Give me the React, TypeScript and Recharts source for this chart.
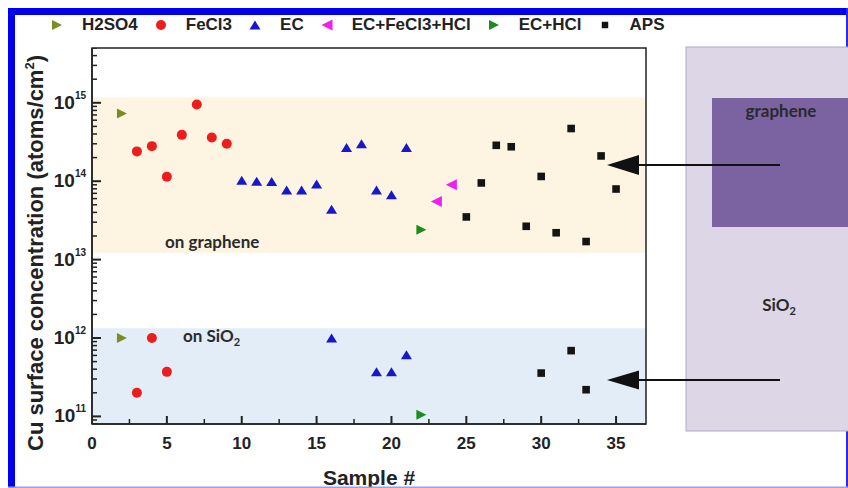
import { ScatterChart, Scatter, XAxis, YAxis, ReferenceArea, Legend } from 'recharts';

// Sample numbers and Cu surface concentrations (atoms/cm2)
const H2SO4_X = [2, 2];
const H2SO4_Y = [7.3e14, 1.0e12];
const FECL3_X = [3, 4, 5, 6, 7, 8, 9, 4, 5, 3];
const FECL3_Y = [2.4e14, 2.8e14, 1.14e14, 3.9e14, 9.5e14, 3.6e14, 3.0e14, 1.0e12, 3.7e11, 2.0e11];
const EC_X = [10, 11, 12, 13, 14, 15, 16, 17, 18, 19, 20, 21, 16, 19, 20, 21];
const EC_Y = [1.03e14, 1.0e14, 9.9e13, 7.7e13, 7.7e13, 9.2e13, 4.4e13, 2.7e14, 3.0e14, 7.7e13, 6.7e13, 2.7e14, 1.0e12, 3.7e11, 3.7e11, 6.1e11];
const EC_FECL3_HCL_X = [23, 24];
const EC_FECL3_HCL_Y = [5.5e13, 9.0e13];
const EC_HCL_X = [22, 22];
const EC_HCL_Y = [2.4e13, 1.05e11];
const APS_X = [25, 26, 27, 28, 29, 30, 31, 32, 33, 34, 35, 30, 32, 33];
const APS_Y = [3.5e13, 9.5e13, 2.87e14, 2.75e14, 2.66e13, 1.15e14, 2.2e13, 4.7e14, 1.7e13, 2.1e14, 7.95e13, 3.57e11, 6.9e11, 2.19e11];

// shaded regions
const GRAPHENE_BAND = [1.22e13, 1.17e15];
const SIO2_BAND = [8e10, 1.33e12];

const X_DOMAIN = [0, 37];
const Y_DOMAIN = [8e10, 5e15];
const X_TICKS = [0, 5, 10, 15, 20, 25, 30, 35];
const X_MINOR = [2.5, 7.5, 12.5, 17.5, 22.5, 27.5, 32.5];
const Y_TICKS = [1e11, 1e12, 1e13, 1e14, 1e15];
const Y_MINOR = [10, 11, 12, 13, 14, 15]
  .flatMap((e) => [2, 3, 4, 5, 6, 7, 8, 9].map((m) => m * Math.pow(10, e)))
  .filter((v) => v >= Y_DOMAIN[0] && v <= Y_DOMAIN[1]);

const toPoints = (xs: number[], ys: number[]) => xs.map((x, i) => ({ x, y: ys[i] }));

type Kind = 'right' | 'left' | 'up' | 'circle' | 'square';

const SERIES: { name: string; color: string; kind: Kind; data: { x: number; y: number }[] }[] = [
  { name: 'H2SO4', color: '#7a8c22', kind: 'right', data: toPoints(H2SO4_X, H2SO4_Y) },
  { name: 'FeCl3', color: '#ee1d1d', kind: 'circle', data: toPoints(FECL3_X, FECL3_Y) },
  { name: 'EC', color: '#1717cc', kind: 'up', data: toPoints(EC_X, EC_Y) },
  { name: 'EC+FeCl3+HCl', color: '#f01ef0', kind: 'left', data: toPoints(EC_FECL3_HCL_X, EC_FECL3_HCL_Y) },
  { name: 'EC+HCl', color: '#1c8c1c', kind: 'right', data: toPoints(EC_HCL_X, EC_HCL_Y) },
  { name: 'APS', color: '#141414', kind: 'square', data: toPoints(APS_X, APS_Y) },
];

const ARIAL = '"Liberation Sans", Arial, sans-serif';
const CALIBRI = 'Lato, "Open Sans", sans-serif';
const AXIS = '#222';

function drawMarker(kind: Kind, cx: number, cy: number, color: string, s = 1) {
  if (kind === 'circle') return <circle cx={cx} cy={cy} r={5 * s} fill={color} />;
  if (kind === 'square') return <rect x={cx - 3.8 * s} y={cy - 3.8 * s} width={7.6 * s} height={7.6 * s} fill={color} />;
  let pts = '';
  if (kind === 'right') pts = `${cx - 5 * s},${cy - 5 * s} ${cx + 5 * s},${cy} ${cx - 5 * s},${cy + 5 * s}`;
  if (kind === 'left') pts = `${cx + 5.5 * s},${cy - 5.5 * s} ${cx - 5.5 * s},${cy} ${cx + 5.5 * s},${cy + 5.5 * s}`;
  if (kind === 'up') pts = `${cx},${cy - 4.5 * s} ${cx + 5.5 * s},${cy + 4.5 * s} ${cx - 5.5 * s},${cy + 4.5 * s}`;
  return <polygon points={pts} fill={color} />;
}

const shapeFor = (kind: Kind, color: string) => (props: any) => {
  const { cx, cy } = props;
  if (cx == null || cy == null) return <g />;
  return drawMarker(kind, cx, cy, color);
};

const renderLegend = () => (
  <div
    style={{
      display: 'flex',
      alignItems: 'center',
      height: 34,
      paddingLeft: 50,
      fontFamily: ARIAL,
      fontSize: 17,
      fontWeight: 700,
      color: '#222',
    }}
  >
    {SERIES.map((s) => (
      <div key={s.name} style={{ display: 'flex', alignItems: 'center', marginRight: 16 }}>
        <svg width={14} height={14}>
          {drawMarker(s.kind, 7, 7, s.color, s.kind === 'square' ? 0.85 : 1)}
        </svg>
        <span style={{ marginLeft: 18 }}>{s.name}</span>
      </div>
    ))}
  </div>
);

// y tick labels: x,y is the axis line position (tickSize and tickMargin are 0)
const PowerTick = (props: any) => {
  const { x, y, payload } = props;
  const exp = Math.round(Math.log10(payload.value));
  return (
    <text x={x - 6} y={y + 6} textAnchor="end" fontFamily={ARIAL} fontWeight={700} fill="#222">
      <tspan fontSize={19}>10</tspan>
      <tspan fontSize={10} dy={-10}>
        {exp}
      </tspan>
    </text>
  );
};

const SampleTick = (props: any) => {
  const { x, y, payload } = props;
  return (
    <text x={x} y={y + 25} textAnchor="middle" fontFamily={ARIAL} fontWeight={700} fontSize={17} fill="#222">
      {payload.value}
    </text>
  );
};

// inward tick marks: points placed on the axes, drawn as short strokes above the bands
const Y_MAJOR_MARKS = Y_TICKS.map((y) => ({ x: X_DOMAIN[0], y }));
const Y_MINOR_MARKS = Y_MINOR.map((y) => ({ x: X_DOMAIN[0], y }));
const X_MAJOR_MARKS = X_TICKS.map((x) => ({ x, y: Y_DOMAIN[0] }));
const X_MINOR_MARKS = X_MINOR.map((x) => ({ x, y: Y_DOMAIN[0] }));

const yTickMark = (len: number, w: number) => (p: any) => {
  if (p.cx == null || p.cy == null) return <g />;
  return <rect x={p.cx} y={p.cy - w / 2} width={len} height={w} fill={AXIS} />;
};
const xTickMark = (len: number, w: number) => (p: any) => {
  if (p.cx == null || p.cy == null) return <g />;
  return <rect x={p.cx - w / 2} y={p.cy - len} width={w} height={len} fill={AXIS} />;
};

const YTitle = (props: any) => {
  const vb = props.viewBox;
  const cx = vb.x + 31;
  const cy = vb.y + vb.height / 2 + 17;
  return (
    <text
      x={cx}
      y={cy}
      transform={`rotate(-90, ${cx}, ${cy})`}
      textAnchor="middle"
      fontFamily={ARIAL}
      fontWeight={700}
      fontSize={22}
      fill="#222"
    >
      Cu surface concentration (atoms/cm
      <tspan fontSize={13} dy={-9}>
        2
      </tspan>
      <tspan dy={9}>)</tspan>
    </text>
  );
};

const XTitle = (props: any) => {
  const vb = props.viewBox;
  return (
    <text
      x={vb.x + vb.width / 2}
      y={vb.y + 61}
      textAnchor="middle"
      fontFamily={ARIAL}
      fontWeight={700}
      fontSize={21}
      fill="#222"
    >
      Sample #
    </text>
  );
};

export default function App() {
  return (
    <div style={{ position: 'absolute', left: 0, top: 0, width: 848, height: 488, background: '#fff' }}>
      <ScatterChart width={848} height={488} margin={{ top: 14, right: 202, bottom: 0, left: 12 }}>
        <Legend
          verticalAlign="top"
          content={renderLegend}
          wrapperStyle={{ top: 8, left: 0, width: 848 }}
        />
        <XAxis
          type="number"
          dataKey="x"
          domain={X_DOMAIN}
          allowDataOverflow
          ticks={X_TICKS}
          interval={0}
          tickLine={false}
          tickSize={0}
          tickMargin={0}
          axisLine={{ stroke: AXIS, strokeWidth: 1.5 }}
          tick={SampleTick}
          height={64}
          label={{ content: XTitle }}
        />
        <YAxis
          type="number"
          dataKey="y"
          scale="log"
          domain={Y_DOMAIN}
          allowDataOverflow
          ticks={Y_TICKS}
          interval={0}
          tickLine={false}
          tickSize={0}
          tickMargin={0}
          axisLine={{ stroke: AXIS, strokeWidth: 1.5 }}
          tick={PowerTick}
          width={80}
          label={{ content: YTitle }}
        />
        <ReferenceArea
          x1={X_DOMAIN[0]}
          x2={X_DOMAIN[1]}
          y1={GRAPHENE_BAND[0]}
          y2={GRAPHENE_BAND[1]}
          fill="#fdf5e2"
          fillOpacity={1}
          stroke="none"
        />
        <ReferenceArea
          x1={X_DOMAIN[0]}
          x2={X_DOMAIN[1]}
          y1={SIO2_BAND[0]}
          y2={SIO2_BAND[1]}
          fill="#e2edf7"
          fillOpacity={1}
          stroke="none"
        />
        <ReferenceArea
          x1={X_DOMAIN[0]}
          x2={X_DOMAIN[1]}
          y1={Y_DOMAIN[0]}
          y2={Y_DOMAIN[1]}
          fill="none"
          stroke={AXIS}
          strokeWidth={1.5}
        />
        <Scatter name="y-major" data={Y_MAJOR_MARKS} legendType="none" shape={yTickMark(9, 2)} isAnimationActive={false} />
        <Scatter name="y-minor" data={Y_MINOR_MARKS} legendType="none" shape={yTickMark(5, 1.5)} isAnimationActive={false} />
        <Scatter name="x-major" data={X_MAJOR_MARKS} legendType="none" shape={xTickMark(8, 2)} isAnimationActive={false} />
        <Scatter name="x-minor" data={X_MINOR_MARKS} legendType="none" shape={xTickMark(5, 1.5)} isAnimationActive={false} />
        {SERIES.map((s) => (
          <Scatter
            key={s.name}
            name={s.name}
            data={s.data}
            fill={s.color}
            shape={shapeFor(s.kind, s.color)}
            isAnimationActive={false}
          />
        ))}
      </ScatterChart>
      <svg
        width={848}
        height={488}
        style={{ position: 'absolute', left: 0, top: 0, pointerEvents: 'none' }}
      >
        {/* frame of the figure */}
        <rect x={8} y={8} width={840} height={7} fill="#0000f0" />
        <rect x={8} y={8} width={7} height={480} fill="#0000f0" />
        <rect x={846} y={8} width={2} height={480} fill="#2a2aee" />
        <rect x={8} y={486.5} width={840} height={1.5} fill="#9c9cf2" />

        {/* schematic of the sample */}
        <rect x={686} y={47} width={170} height={384} fill="#dcd6e6" stroke="#b3a9c6" />
        <rect x={712} y={98} width={140} height={129} fill="#7b62a0" />
        <text x={781} y={117} textAnchor="middle" fontFamily={CALIBRI} fontWeight={700} fontSize={17} fill="#2a2a2a">
          graphene
        </text>
        <text x={779} y={311} textAnchor="middle" fontFamily={CALIBRI} fontWeight={700} fontSize={17} fill="#2a2a2a">
          SiO<tspan fontSize={11} dy={4}>2</tspan>
        </text>

        {/* arrows */}
        <line x1={780} y1={165} x2={632} y2={165} stroke="#111" strokeWidth={2} />
        <polygon points="607,165 639,155 639,175" fill="#111" />
        <line x1={780} y1={380} x2={632} y2={380} stroke="#111" strokeWidth={2} />
        <polygon points="607,380 639,370.5 639,389.5" fill="#111" />

        {/* band notes */}
        <text x={165} y={248} fontFamily={CALIBRI} fontWeight={700} fontSize={17} fill="#2a2a2a">
          on graphene
        </text>
        <text x={183} y={342} fontFamily={CALIBRI} fontWeight={700} fontSize={17} fill="#2a2a2a">
          on SiO<tspan fontSize={11} dy={4}>2</tspan>
        </text>
      </svg>
    </div>
  );
}
